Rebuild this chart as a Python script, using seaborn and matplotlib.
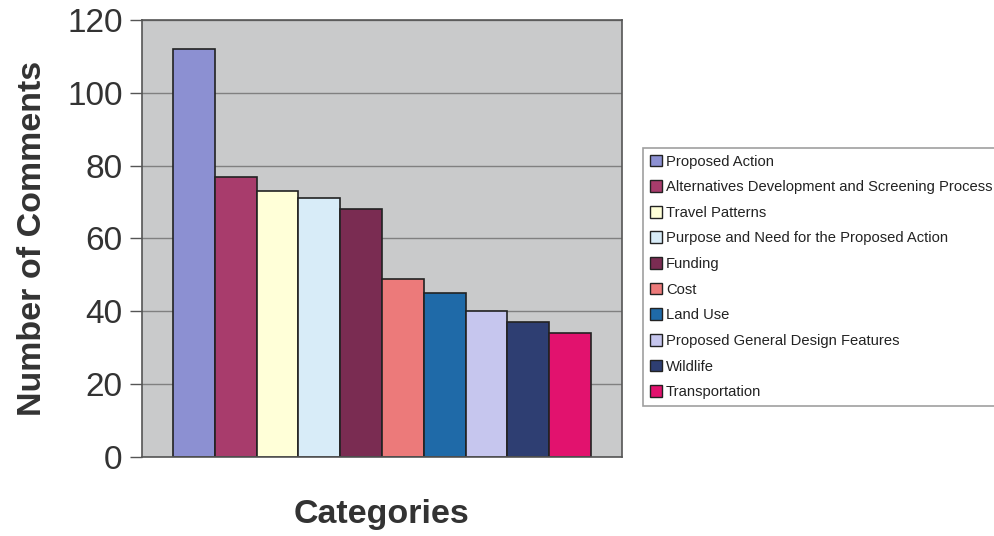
import matplotlib
matplotlib.use("Agg")
import matplotlib.pyplot as plt
import seaborn as sns
import pandas as pd
from matplotlib.patches import Patch

categories = [
    "Proposed Action",
    "Alternatives Development and Screening Process",
    "Travel Patterns",
    "Purpose and Need for the Proposed Action",
    "Funding",
    "Cost",
    "Land Use",
    "Proposed General Design Features",
    "Wildlife",
    "Transportation",
]
counts = [112, 77, 73, 71, 68, 49, 45, 40, 37, 34]
colors = ["#8c90d2", "#a83c6c", "#ffffd8", "#d8ecf8", "#7a2c52",
          "#ec7a7a", "#1f6aa8", "#c6c6ee", "#2e3e72", "#e2126e"]
yticks = [0, 20, 40, 60, 80, 100, 120]

sns.set_theme(style="white")
plt.rcParams["font.family"] = ["Liberation Sans", "DejaVu Sans"]

df = pd.DataFrame({"Category": categories, "Count": counts})

fig = plt.figure(figsize=(9.95, 5.36), dpi=100)
ax = fig.add_axes([0.1427, 0.1474, 0.4824, 0.8153])
ax.set_facecolor("#c9cacb")
ax.yaxis.grid(True, color="#808080", linewidth=1.0)
ax.set_axisbelow(True)

sns.barplot(data=df, x="Category", y="Count", hue="Category",
            palette=colors, order=categories, hue_order=categories,
            width=1.0, dodge=False, edgecolor="#222222", linewidth=1.2,
            saturation=1, legend=False, ax=ax)

ax.set_xlim(-1.24, 10.24)
ax.set_ylim(0, 120)
ax.set_yticks(yticks)
ax.set_yticklabels([str(t) for t in yticks], fontsize=24, color="#333333")
ax.set_xticks([])
ax.tick_params(axis="y", length=9, width=1, color="#555555", direction="out", left=True, pad=5)
for s in ax.spines.values():
    s.set_color("#555555")
    s.set_linewidth(1.2)

ax.set_ylabel("Number of Comments", fontsize=24.5, fontweight="bold", color="#333333", labelpad=14)
ax.set_xlabel("Categories", fontsize=24.5, fontweight="bold", color="#333333", labelpad=30)

handles = [Patch(facecolor=c, edgecolor="#222222", linewidth=1.0) for c in colors]
leg = fig.legend(handles, categories, loc="upper left",
                 bbox_to_anchor=(0.6465, 0.724), bbox_transform=fig.transFigure,
                 borderaxespad=0, fontsize=10.6, frameon=True, fancybox=False,
                 handlelength=0.85, handleheight=0.85, handletextpad=0.25,
                 labelspacing=0.79, borderpad=0.45)
leg.get_frame().set_edgecolor("#888888")
leg.get_frame().set_linewidth(1.2)
for t in leg.get_texts():
    t.set_color("#222222")

fig.savefig("out.png", dpi=100)
